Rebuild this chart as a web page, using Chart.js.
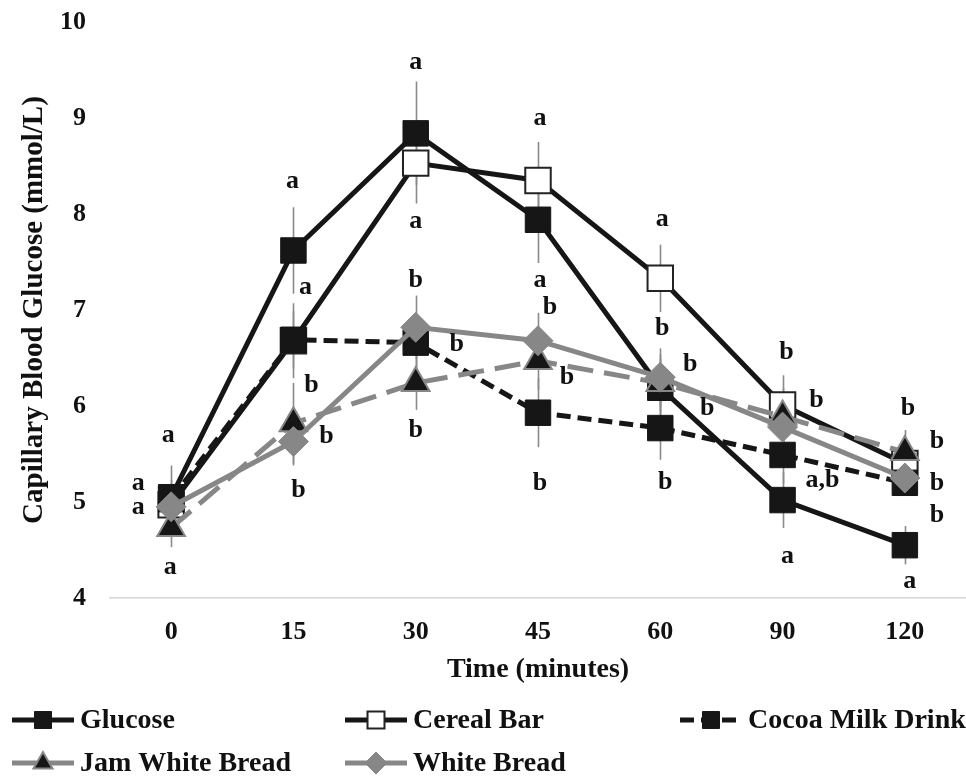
<!DOCTYPE html>
<html><head><meta charset="utf-8">
<script src="https://cdn.jsdelivr.net/npm/chart.js@4.4.1/dist/chart.umd.min.js"></script>
<style>html,body{margin:0;padding:0;background:#fff;}#wrap{width:966px;height:780px;}</style>
</head><body><div id="wrap"><canvas id="c" width="966" height="780"></canvas></div>
<script>
// ---- data ----
const categories = ['0', '15', '30', '45', '60', '90', '120'];
const yTicks = [4, 5, 6, 7, 8, 9, 10];
const glucose       = [5.05, 7.62, 8.84, 7.94, 6.19, 5.02, 4.55];
const cerealBar     = [4.97, 6.68, 8.53, 8.35, 7.33, 6.01, 5.40];
const cocoaMilk     = [5.03, 6.69, 6.66, 5.93, 5.77, 5.49, 5.20];
const jamWhiteBread = [4.73, 5.82, 6.24, 6.47, 6.24, 5.89, 5.52];
const whiteBread    = [4.95, 5.63, 6.82, 6.68, 6.30, 5.78, 5.25];
const glucoseErr    = [0.33, 0.45, 0.54, 0.45, 0.30, 0.29, 0.20];
const cerealErr     = [0.20, 0.39, 0.42, 0.40, 0.35, 0.31, 0.25];
const cocoaErr      = [0.20, 0.30, 0.30, 0.36, 0.33, 0.30, 0.12];
const jamErr        = [0.20, 0.42, 0.28, 0.30, 0.30, 0.30, 0.23];
const whiteErr      = [0.20, 0.25, 0.33, 0.29, 0.30, 0.28, 0.15];
const seriesNames = ['Glucose', 'Cereal Bar', 'Cocoa Milk Drink', 'Jam White Bread', 'White Bread'];
// significance letters: category index, value position, text
const letterIdx  = [0,0,0,0, 1,1,1,1,1, 2,2,2,2,2, 3,3,3,3,3, 4,4,4,4,4, 5,5,5,5, 6,6,6,6,6];
const letterVal  = [5.69,5.19,4.95,4.32, 8.34,7.24,6.22,5.68,5.12, 9.58,7.92,7.31,6.64,5.75, 9.0,7.31,7.03,6.30,5.20, 7.94,6.81,6.43,5.98,5.21, 6.56,6.06,5.23,4.43, 5.98,5.63,5.20,4.86,4.17];
const letterText = ['a','a','a','a', 'a','a','b','b','b', 'a','a','b','b','b', 'a','a','b','b','b', 'a','b','b','b','b', 'b','b','a,b','a', 'b','b','b','b','a'];
// ---- layout / style ----
const letterDx   = [-3,-33,-33,-1, -1,12,18,33,5, 0,0,0,41,0, 2,2,12,29,2, 2,2,30,47,5, 4,34,40,5, 3,32,32,32,5];
const FONT = "'Liberation Serif','Times New Roman',serif";
const BLACK = '#161616', GREY = '#878787', ERRC = '#8a8a8a', TXT = '#111111';

const errs = [glucoseErr, cerealErr, cocoaErr, jamErr, whiteErr];

function marker(ctx, style, x, y, r, fill, stroke, lw) {
  ctx.save();
  ctx.beginPath();
  if (style === 'rect') {
    const s = Math.SQRT1_2 * r;
    ctx.rect(x - s, y - s, 2 * s, 2 * s);
  } else if (style === 'triangle') {
    ctx.moveTo(x, y - r);
    ctx.lineTo(x + Math.sin(2 * Math.PI / 3) * r, y + 0.5 * r);
    ctx.lineTo(x - Math.sin(2 * Math.PI / 3) * r, y + 0.5 * r);
    ctx.closePath();
  } else {
    ctx.moveTo(x - r, y); ctx.lineTo(x, y - r); ctx.lineTo(x + r, y); ctx.lineTo(x, y + r); ctx.closePath();
  }
  ctx.fillStyle = fill; ctx.fill();
  if (lw > 0) { ctx.lineWidth = lw; ctx.strokeStyle = stroke; ctx.stroke(); }
  ctx.restore();
}

const errorBarPlugin = {
  id: 'errorBars',
  beforeDatasetsDraw(chart) {
    const {ctx, scales: {x, y}} = chart;
    ctx.save();
    ctx.strokeStyle = ERRC; ctx.lineWidth = 1.6;
    chart.data.datasets.forEach((ds, k) => {
      ds.data.forEach((v, i) => {
        const e = errs[k][i];
        const px = Math.round(x.getPixelForValue(i)) + 0.5;
        ctx.beginPath();
        ctx.moveTo(px, y.getPixelForValue(v + e));
        ctx.lineTo(px, y.getPixelForValue(v - e));
        ctx.stroke();
      });
    });
    ctx.restore();
  }
};

const lettersPlugin = {
  id: 'letters',
  afterDatasetsDraw(chart) {
    const {ctx, scales: {x, y}} = chart;
    ctx.save();
    ctx.font = 'bold 26px ' + FONT;
    ctx.fillStyle = TXT; ctx.textAlign = 'center'; ctx.textBaseline = 'middle';
    letterText.forEach((t, j) => {
      ctx.fillText(t, x.getPixelForValue(letterIdx[j]) + letterDx[j], y.getPixelForValue(letterVal[j]));
    });
    ctx.restore();
  }
};

const legendPlugin = {
  id: 'customLegend',
  afterDraw(chart) {
    const {ctx} = chart;
    const slots = [[12, 720], [345, 720], [680, 720], [12, 763], [345, 763]];
    ctx.save();
    chart.data.datasets.forEach((ds, k) => {
      const [x0, yc] = slots[k];
      ctx.beginPath();
      ctx.setLineDash(ds.borderDash || []);
      ctx.strokeStyle = ds.borderColor; ctx.lineWidth = 5;
      ctx.moveTo(x0, yc); ctx.lineTo(x0 + 62, yc); ctx.stroke();
      ctx.setLineDash([]);
      const r = ds.pointStyle === 'rect' ? 12 : 11;
      marker(ctx, ds.pointStyle, x0 + 31, yc, r, ds.pointBackgroundColor, ds.pointBorderColor, ds.pointBorderWidth);
      ctx.font = 'bold 28px ' + FONT;
      ctx.fillStyle = TXT; ctx.textAlign = 'left'; ctx.textBaseline = 'middle';
      ctx.fillText(ds.label, x0 + 68, yc + 1);
    });
    ctx.restore();
  }
};

new Chart(document.getElementById('c'), {
  type: 'line',
  data: {
    labels: categories,
    datasets: [
      {label: seriesNames[0], data: glucose, borderColor: BLACK, borderWidth: 5, pointStyle: 'rect', pointRadius: 18,
       pointBackgroundColor: BLACK, pointBorderColor: BLACK, pointBorderWidth: 1, order: 4},
      {label: seriesNames[1], data: cerealBar, borderColor: BLACK, borderWidth: 5, pointStyle: 'rect', pointRadius: 18,
       pointBackgroundColor: '#ffffff', pointBorderColor: '#222222', pointBorderWidth: 2, order: 3},
      {label: seriesNames[2], data: cocoaMilk, borderColor: BLACK, borderWidth: 5, borderDash: [14, 7], pointStyle: 'rect', pointRadius: 18,
       pointBackgroundColor: BLACK, pointBorderColor: BLACK, pointBorderWidth: 1, order: 2},
      {label: seriesNames[3], data: jamWhiteBread, borderColor: GREY, borderWidth: 5, borderDash: [26, 11], pointStyle: 'triangle', pointRadius: 16,
       pointBackgroundColor: BLACK, pointBorderColor: GREY, pointBorderWidth: 2, order: 1},
      {label: seriesNames[4], data: whiteBread, borderColor: GREY, borderWidth: 5, pointStyle: 'rectRot', pointRadius: 15,
       pointBackgroundColor: GREY, pointBorderColor: GREY, pointBorderWidth: 1, order: 0}
    ]
  },
  options: {
    responsive: false, animation: false, events: [],
    layout: {autoPadding: false, padding: {left: 0, right: 0, top: 22, bottom: 82}},
    elements: {line: {tension: 0, fill: false}},
    plugins: {legend: {display: false}, tooltip: {enabled: false}},
    scales: {
      x: {
        type: 'category', offset: true,
        grid: {display: false, drawTicks: false},
        border: {display: true, color: '#d6d6d6', width: 1.5},
        ticks: {font: {family: FONT, size: 26, weight: 'bold'}, color: TXT, padding: 19, maxRotation: 0, autoSkip: false},
        title: {display: true, text: 'Time (minutes)', color: TXT, font: {family: FONT, size: 28, weight: 'bold'}, padding: {top: 0, bottom: 11}},
        afterFit(s) { s.height = 100; s.paddingLeft = 0; s.paddingRight = 0; }
      },
      y: {
        min: yTicks[0], max: yTicks[yTicks.length - 1],
        afterBuildTicks(s) { s.ticks = yTicks.map(v => ({value: v})); },
        grid: {display: false, drawTicks: false},
        border: {display: false},
        ticks: {font: {family: FONT, size: 26, weight: 'bold'}, color: TXT, padding: 24},
        title: {display: true, text: 'Capillary Blood Glucose (mmol/L)', color: TXT, font: {family: FONT, size: 29, weight: 'bold'}, padding: {top: 17, bottom: 0}},
        afterFit(s) { s.width = 110; s.paddingTop = 0; s.paddingBottom = 0; }
      }
    }
  },
  plugins: [errorBarPlugin, lettersPlugin, legendPlugin]
});
</script></body></html>
